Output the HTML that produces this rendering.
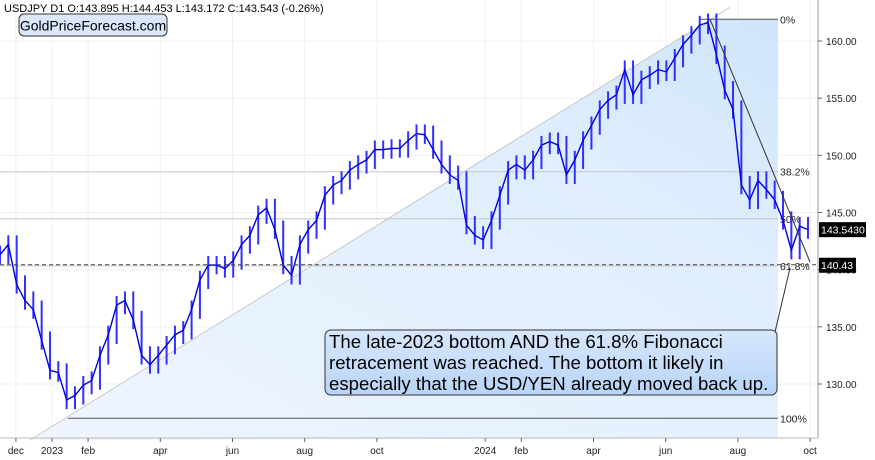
<!DOCTYPE html>
<html><head><meta charset="utf-8"><style>
body{margin:0;background:#fff;font-family:"Liberation Sans",sans-serif}
svg{display:block}
</style></head><body>
<svg id="c" width="875" height="460" xmlns="http://www.w3.org/2000/svg">
<defs>
<linearGradient id="fg" x1="0" y1="1" x2="1" y2="0">
<stop offset="0" stop-color="#eef5fe"/><stop offset="0.7" stop-color="#dfeefd"/><stop offset="1" stop-color="#cfe4fb"/>
</linearGradient>
<linearGradient id="bg" x1="0" y1="0" x2="0" y2="1">
<stop offset="0" stop-color="#d6e7fd"/><stop offset="1" stop-color="#b9d4f7"/>
</linearGradient>
</defs>
<g id="grid"></g>
<g id="fib"></g>
<g id="series"></g>
<g id="axes"></g>
<text x="4" y="12" font-size="11" fill="#000">USDJPY  D1  O:143.895  H:144.453  L:143.172  C:143.543  (-0.26%)</text>
<rect x="19" y="14" width="148" height="22" rx="5" fill="#dbe8fb" stroke="#333"/>
<text x="93" y="30.5" font-size="14" text-anchor="middle" fill="#000">GoldPriceForecast.com</text>
<g>
<line x1="775" y1="332" x2="790" y2="268" stroke="#333" stroke-width="1"/>
<rect x="325" y="330" width="452" height="65" rx="6" fill="url(#bg)" stroke="#333"/>
<text font-size="18.6" fill="#000">
<tspan x="329" y="348">The late-2023 bottom AND the 61.8% Fibonacci</tspan>
<tspan x="329" y="369">retracement was reached. The bottom it likely in</tspan>
<tspan x="329" y="390">especially that the USD/YEN already moved back up.</tspan>
</text>
</g>
</svg>
<script>
const closes=[141.3,142.2,138.7,137.3,136.5,133.8,131.2,131.0,128.6,129.0,129.9,130.3,132.5,134.3,136.9,137.3,135.6,132.5,131.7,132.5,133.4,134.3,134.7,136.5,139.1,140.4,140.4,140.1,140.8,142.2,143.0,144.8,145.4,143.5,140.4,139.5,142.2,143.5,144.3,146.5,147.4,147.8,148.7,149.2,149.6,150.5,150.5,150.6,150.6,151.3,151.9,151.8,150.5,149.2,148.3,147.8,143.9,143.0,142.6,144.3,146.5,148.7,149.2,148.7,149.6,150.9,151.2,150.9,148.3,149.6,151.3,152.6,154.0,154.8,155.3,157.5,155.3,156.6,157.0,157.5,157.3,158.5,159.7,160.5,161.4,161.6,158.8,155.7,154.0,147.4,146.1,147.8,147.0,146.1,144.3,141.7,143.8,143.5];
const yTicks=[130,135,140,145,150,155,160];
const monthLabels=["dec","2023","feb","apr","jun","aug","oct","2024","feb","apr","jun","aug","oct"];
const monthIdx=[-1,0,1,3,5,7,9,12,13,15,17,19,21];
const fibLevels=[0,38.2,50,61.8,100];
const fibHigh=161.9, fibLow=127.0;
const lastPrice=143.543, refLevel=140.43;
const NS="http://www.w3.org/2000/svg";
const y=v=>41+(160-v)*11.433;
const xw=i=>i*8.33;
const xm=m=>52+m*36.1;
function mk(p,tag,a){const e=document.createElementNS(NS,tag);for(const k in a)e.setAttribute(k,a[k]);p.appendChild(e);return e;}
const G=document.getElementById('grid'),F=document.getElementById('fib'),S=document.getElementById('series'),A=document.getElementById('axes');
monthIdx.forEach(m=>{const l=mk(G,'line',{x1:xm(m),x2:xm(m),y1:0,y2:438,stroke:'#f0f0f0'});

});
yTicks.forEach(v=>{const l=mk(G,'line',{x1:0,x2:818,y1:y(v),y2:y(v),stroke:'#f0f0f0'});

});
const xs=30,ys=440,xp=710,yp=y(fibHigh),xr=778;
const tri=mk(F,'polygon',{points:`${xs},${ys} ${xp},${yp} ${xr},${yp} ${xr},${y(fibLow)+20} ${xs},${ys}`,fill:'url(#fg)'});


const dl=mk(F,'line',{x1:xs,y1:ys,x2:xp+20,y2:yp-12,stroke:'#c8c8c8'});


fibLevels.forEach(p=>{const v=fibHigh-(fibHigh-fibLow)*p/100;const x0=p==100?68:(p==0?700:0);
const l=mk(F,'line',{x1:x0,x2:xr,y1:y(v),y2:y(v),stroke:p==0||p==100?'#555':'#c4c8cc'});


const t=mk(F,'text',{x:xr+2,y:y(v)+4,'font-size':10.5,fill:'#222'});t.textContent=(p%1?p.toFixed(1):p)+'%';

});
let pts=[];
closes.forEach((c,i)=>{const pr=i?closes[i-1]:c;const hi=Math.max(pr,c)+0.8,lo=Math.min(pr,c)-0.8;
const b=mk(S,'line',{x1:xw(i),x2:xw(i),y1:y(hi),y2:y(lo),stroke:'#3030ff','stroke-width':2});


pts.push(xw(i)+','+y(c));});
const pl=mk(S,'polyline',{points:pts.join(' '),fill:'none',stroke:'#0000e6','stroke-width':1.4});


const tl=mk(S,'line',{x1:xp,y1:yp,x2:810,y2:262,stroke:'#333','stroke-width':1});


const dash=mk(S,'line',{x1:0,x2:818,y1:y(refLevel),y2:y(refLevel),stroke:'#444','stroke-dasharray':'4,3'});


mk(A,'line',{x1:818,x2:818,y1:0,y2:438,stroke:'#999'});
mk(A,'line',{x1:0,x2:818,y1:438,y2:438,stroke:'#bbb'});
yTicks.forEach(v=>{mk(A,'line',{x1:818,x2:822,y1:y(v),y2:y(v),stroke:'#666'});
const t=mk(A,'text',{x:826,y:y(v)+4,'font-size':10,fill:'#222'});t.textContent=v.toFixed(2);

});
monthIdx.forEach((m,k)=>{mk(A,'line',{x1:xm(m),x2:xm(m),y1:438,y2:442,stroke:'#666'});
const t=mk(A,'text',{x:xm(m),y:454,'font-size':10,fill:'#222','text-anchor':'middle'});t.textContent=monthLabels[k];

});
[[lastPrice,lastPrice.toFixed(4)],[refLevel,refLevel.toFixed(2)]].forEach(([v,s])=>{
const r=mk(A,'rect',{x:819,y:y(v)-7,width:s.length>6?47:37,height:15,fill:'#000'});


const t=mk(A,'text',{x:821,y:y(v)+4.5,'font-size':10.5,fill:'#fff'});t.textContent=s;

});
</script>
</body></html>
